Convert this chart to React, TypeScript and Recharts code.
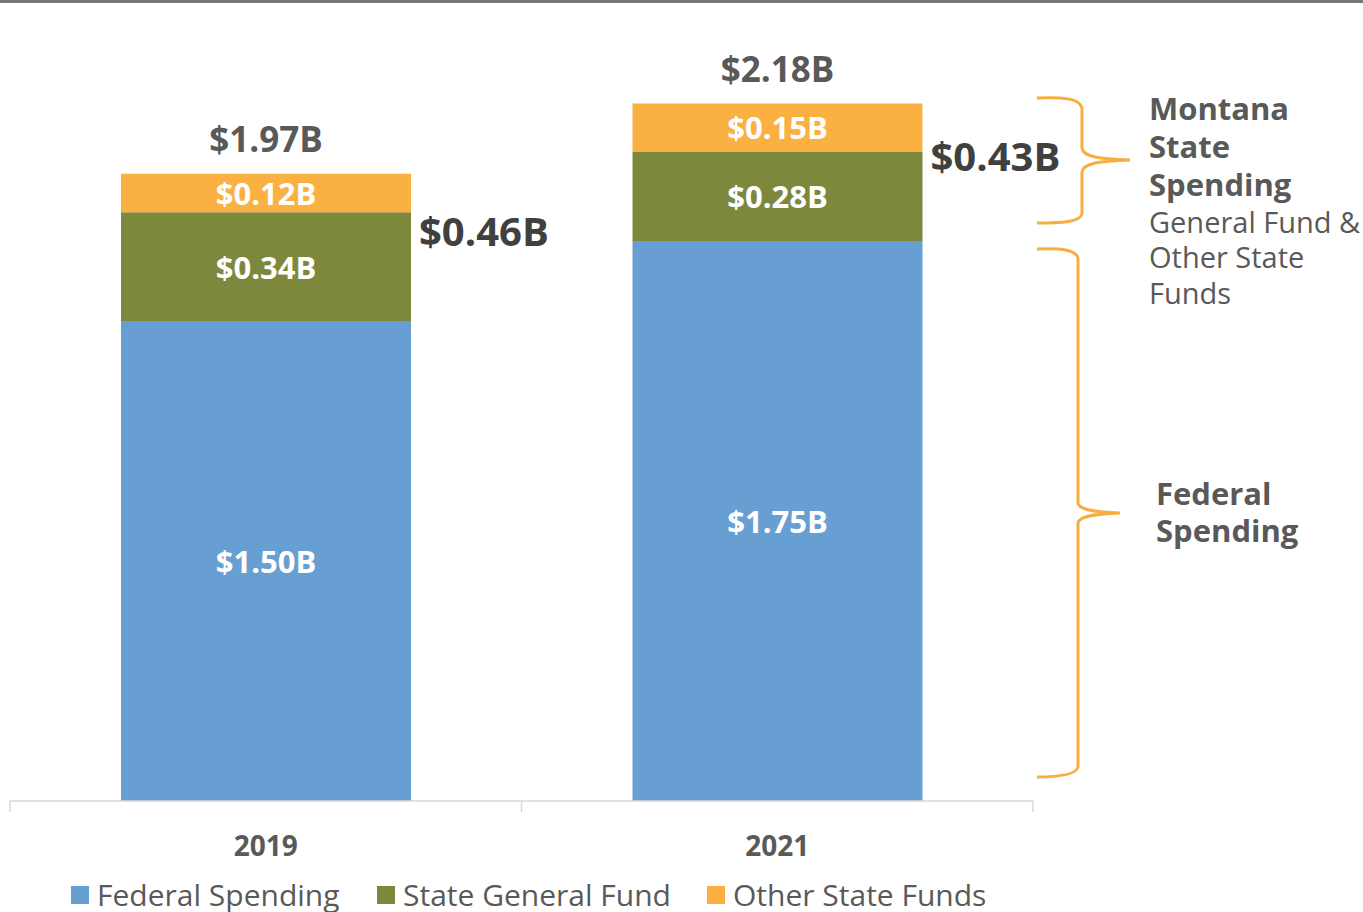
import React from 'react';
import { BarChart, Bar, XAxis, YAxis, LabelList, Legend } from 'recharts';

// ---- data ----
const years = ['2019', '2021'];
const federal = [1.5, 1.75];
const generalFund = [0.34, 0.28];
const otherFunds = [0.12, 0.15];
const totals = [1.97, 2.18];

const seriesNames = ['Federal Spending', 'State General Fund', 'Other State Funds'];

const data = years.map((y, i) => ({
  year: y,
  federal: federal[i],
  general: generalFund[i],
  other: otherFunds[i],
}));

// ---- style ----
const W = 1363;
const H = 912;
const FONT = '"Open Sans", "DejaVu Sans", sans-serif';
const BLUE = '#689fd3';
const OLIVE = '#7d883c';
const ORANGE = '#fbb042';
const COLORS = [BLUE, OLIVE, ORANGE];
const TEXT = '#595959';
const DARK = '#404040';
const BRACE = '#f8ae3f';
const MARGIN = { top: 33, right: 330, bottom: 51, left: 10 };
const XAXIS_H = 60;

const fmt = (v: number) => `$${v.toFixed(2)}B`;

const InnerLabel = (props: any) => {
  const { x, y, width, height, value } = props;
  return (
    <text
      x={x + width / 2}
      y={y + height / 2}
      textAnchor="middle"
      dominantBaseline="central"
      fill="#ffffff"
      fontSize={31}
      fontWeight={700}
      fontFamily={FONT}
    >
      {fmt(value)}
    </text>
  );
};

const TotalLabel = (props: any) => {
  const { x, y, width, index } = props;
  return (
    <text
      x={x + width / 2}
      y={y - 35}
      textAnchor="middle"
      dominantBaseline="central"
      fill={TEXT}
      fontSize={35}
      fontWeight={700}
      fontFamily={FONT}
    >
      {fmt(totals[index])}
    </text>
  );
};

const StateLabel = (props: any) => {
  const { x, y, width, height, index } = props;
  const otherH = (height * otherFunds[index]) / generalFund[index];
  const top = y - otherH;
  const bottom = y + height;
  return (
    <text
      x={x + width + 8}
      y={(top + bottom) / 2 - 17}
      textAnchor="start"
      dominantBaseline="central"
      fill={DARK}
      fontSize={40}
      fontWeight={700}
      fontFamily={FONT}
    >
      {fmt(generalFund[index] + otherFunds[index])}
    </text>
  );
};

const legendWidths = [306, 330, 320];

const LegendContent = () => (
  <div style={{ display: 'flex', fontFamily: FONT }}>
    {seriesNames.map((name, i) => (
      <div
        key={name}
        style={{ width: legendWidths[i], display: 'flex', alignItems: 'center', whiteSpace: 'nowrap' }}
      >
        <span style={{ display: 'inline-block', width: 18, height: 18, background: COLORS[i], marginRight: 8 }} />
        <span style={{ fontSize: 30, lineHeight: '34px', color: TEXT }}>{name}</span>
      </div>
    ))}
  </div>
);

const YearTick = (props: any) => {
  const { x, y, payload } = props;
  return (
    <text
      x={x}
      y={y + 36}
      textAnchor="middle"
      dominantBaseline="central"
      fill={TEXT}
      fontSize={28}
      fontWeight={700}
      fontFamily={FONT}
    >
      {payload.value}
    </text>
  );
};

export default function App() {
  const plotLeft = MARGIN.left;
  const plotRight = W - MARGIN.right;
  const plotBottom = H - MARGIN.bottom - XAXIS_H;
  const band = (plotRight - plotLeft) / years.length;
  const bounds = Array.from({ length: years.length + 1 }, (_, i) => plotLeft + i * band);

  return (
    <div style={{ position: 'absolute', left: 0, top: 0, width: W, height: H, background: '#fff', fontFamily: FONT, overflow: 'hidden' }}>
      <BarChart width={W} height={H} data={data} margin={MARGIN}>
        <XAxis
          dataKey="year"
          height={XAXIS_H}
          axisLine={{ stroke: '#d9d9d9', strokeWidth: 1.5 }}
          tickLine={false}
          tick={<YearTick />}
          interval={0}
        />
        <YAxis hide domain={[0, 2.4]} />
        <Legend
          verticalAlign="middle"
          align="center"
          layout="horizontal"
          content={<LegendContent />}
          wrapperStyle={{ top: 878, left: 71, width: 1000, height: 34 }}
        />
        <Bar dataKey="federal" name={seriesNames[0]} stackId="a" fill={BLUE} barSize={290} isAnimationActive={false}>
          <LabelList dataKey="federal" content={<InnerLabel />} />
        </Bar>
        <Bar dataKey="general" name={seriesNames[1]} stackId="a" fill={OLIVE} barSize={290} isAnimationActive={false}>
          <LabelList dataKey="general" content={<InnerLabel />} />
          <LabelList dataKey="general" content={<StateLabel />} />
        </Bar>
        <Bar dataKey="other" name={seriesNames[2]} stackId="a" fill={ORANGE} barSize={290} isAnimationActive={false}>
          <LabelList dataKey="other" content={<InnerLabel />} />
          <LabelList dataKey="other" content={<TotalLabel />} />
        </Bar>
      </BarChart>
      <svg
        width={W}
        height={H}
        style={{ position: 'absolute', left: 0, top: 0, pointerEvents: 'none' }}
      >
        <rect x={0} y={0} width={W} height={3} fill="#75767a" />
        {bounds.map((bx, i) => (
          <line key={i} x1={bx} x2={bx} y1={plotBottom} y2={plotBottom + 11} stroke="#d9d9d9" strokeWidth={1.5} />
        ))}
        {/* State brace */}
        <path
          d="M1037,98 C1062,97 1080,98 1082,108 L1082,148 C1083,157 1100,159 1130,160 C1100,161 1083,163 1082,172 L1082,214 C1080,222 1062,223 1037,223"
          fill="none"
          stroke={BRACE}
          strokeWidth={3}
        />
        {/* Federal brace */}
        <path
          d="M1037,249 C1058,248 1076,249 1078,258 L1078,503 C1079,510 1095,512 1120,513 C1095,514 1079,516 1078,523 L1078,767 C1076,775 1058,777 1037,777"
          fill="none"
          stroke={BRACE}
          strokeWidth={3}
        />
        <g fontFamily={FONT} fill={TEXT}>
          <text x={1149} y={108} fontSize={31} fontWeight={700} dominantBaseline="central">Montana</text>
          <text x={1149} y={146} fontSize={31} fontWeight={700} dominantBaseline="central">State</text>
          <text x={1149} y={184} fontSize={31} fontWeight={700} dominantBaseline="central">Spending</text>
          <text x={1149} y={221} fontSize={29} dominantBaseline="central">General Fund &amp;</text>
          <text x={1149} y={256} fontSize={29} dominantBaseline="central">Other State</text>
          <text x={1149} y={292} fontSize={29} dominantBaseline="central">Funds</text>
          <text x={1156} y={493} fontSize={31} fontWeight={700} dominantBaseline="central">Federal</text>
          <text x={1156} y={530} fontSize={31} fontWeight={700} dominantBaseline="central">Spending</text>
        </g>
      </svg>
    </div>
  );
}
